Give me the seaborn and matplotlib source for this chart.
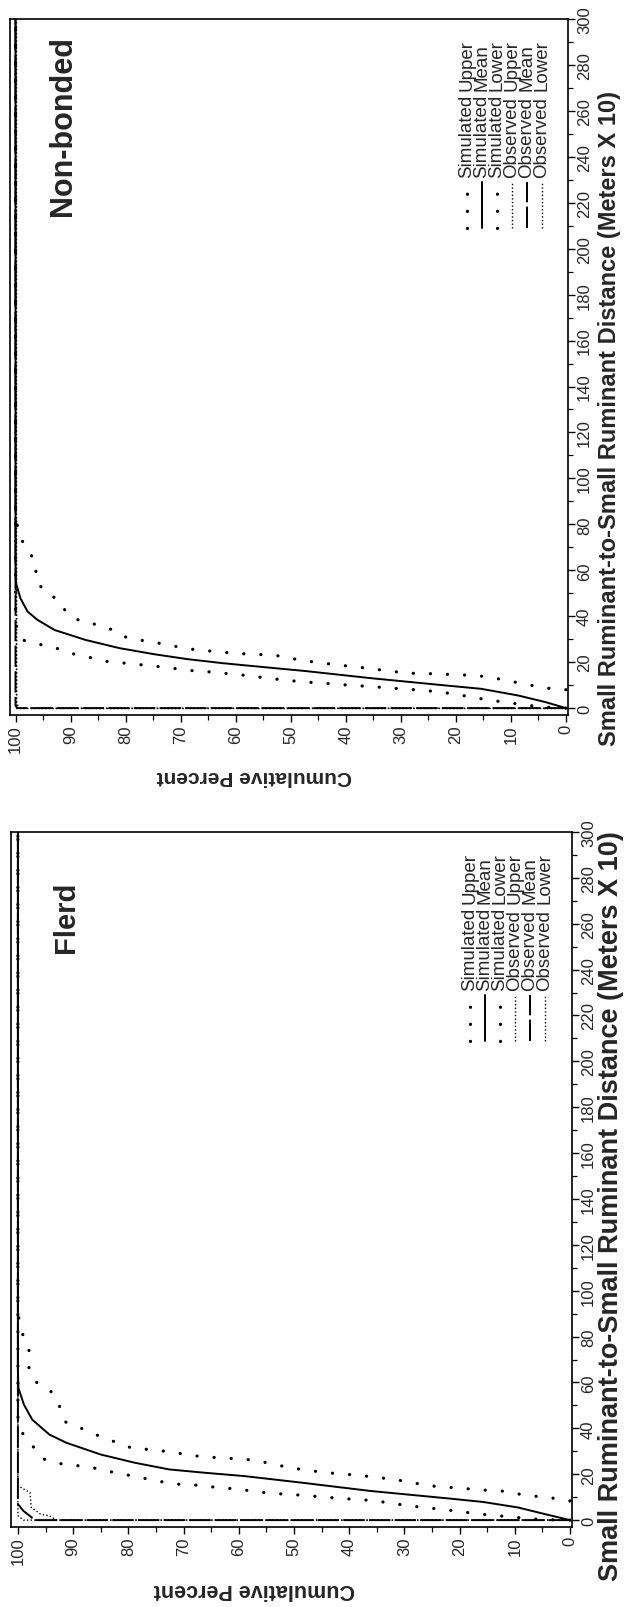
import matplotlib
matplotlib.use("Agg")
import matplotlib.pyplot as plt
from matplotlib.lines import Line2D
from matplotlib.ticker import MultipleLocator
import pandas as pd
import seaborn as sns

# ---------------- data (distance in metres x 10, cumulative percent) ----------------
series_names = ["Simulated Upper", "Simulated Mean", "Simulated Lower",
                "Observed Upper", "Observed Mean", "Observed Lower"]

# Flerd panel
flerd_sim_upper_d = [0, 0.2, 0.5, 1.2, 1.9, 2.6, 3.6, 4.6, 6.2, 8.5, 9.5, 10.8, 11.8, 13.7, 14.3, 15.2,
                     15.5, 16.6, 18.1, 19.6, 21.1, 22.7, 23.8, 24.7, 26.9, 32.6, 38, 45, 300]
flerd_sim_upper_p = [0, 4.0, 6.5, 9.8, 13.0, 16.3, 19.5, 22.8, 29.1, 35.5, 41.8, 48.2, 54.7, 60.9, 64.2, 67.2,
                     70.4, 73.7, 76.8, 80.0, 83.2, 86.2, 89.4, 92.6, 95.7, 97.4, 99.2, 100, 100]
flerd_sim_mean_d = [0, 2.6, 5.5, 7.9, 9.4, 12.7, 16.3, 19.2, 20.7, 22.1, 25.0, 28.6, 33.7, 37.3, 43.8,
                    50.3, 57.5, 65, 300]
flerd_sim_mean_p = [0, 4.5, 9.4, 15.7, 21.8, 36.1, 48.5, 59.0, 66.4, 72.6, 78.8, 85.0, 91.2, 94.3, 97.4,
                    98.9, 99.9, 100, 100]
flerd_sim_lower_d = [8.4, 9.5, 10.3, 11.3, 12.7, 13.1, 13.7, 14.9, 17.6, 19.5, 20.7, 22.8, 26.1, 26.7, 27.2,
                     27.6, 28.7, 29.9, 30.8, 31.2, 33.9, 36.8, 39.9, 42.8, 49.8, 56.0, 59.7, 65.5, 74.4, 82,
                     90, 300]
flerd_sim_lower_p = [0, 2.8, 5.9, 9.1, 12.4, 15.7, 18.7, 25.2, 31.5, 38.0, 44.3, 50.7, 57.0, 60.3, 63.3,
                     66.6, 69.7, 73.0, 76.1, 79.1, 82.2, 85.4, 88.4, 91.4, 92.5, 94.0, 96.5, 98.0, 98.0, 99.3,
                     100, 100]
flerd_obs_upper_d = [0, 0, 2, 300]
flerd_obs_upper_p = [0, 99, 100, 100]
flerd_obs_mean_d = [0, 0, 1.2, 4, 7, 300]
flerd_obs_mean_p = [0, 97.3, 97.5, 99, 100, 100]
flerd_obs_lower_d = [0, 0, 1.9, 2.6, 5.6, 12, 15, 300]
flerd_obs_lower_p = [0, 93, 94.3, 95.9, 97.6, 97.8, 100, 100]

# Non-bonded panel
nb_sim_upper_d = [0, 0.2, 1.0, 2.2, 3.3, 4.5, 6.0, 7.0, 7.8, 8.3, 8.8, 9.4, 9.9, 10.4, 11.0, 11.6, 12.3,
                  13.2, 14.2, 14.9, 15.7, 16.2, 17.1, 18.0, 18.8, 19.6, 20.3, 22.0, 23.6, 26.1, 27.8, 29.7,
                  35, 40, 300]
nb_sim_upper_p = [0, 2.4, 6.1, 9.9, 13.3, 16.6, 19.9, 22.9, 26.1, 29.3, 32.3, 35.6, 38.8, 42.0, 45.2, 48.5,
                  51.5, 54.8, 57.9, 61.1, 64.3, 67.5, 70.6, 73.8, 76.9, 80.2, 83.3, 86.4, 89.5, 92.6, 95.7,
                  98.8, 99.8, 100, 100]
nb_sim_mean_d = [0, 2.6, 5.5, 8.4, 10.1, 13.0, 16.2, 18.6, 19.6, 21.3, 23.5, 26.1, 29.7, 34.0, 38.4, 42.0,
                 47.8, 54.3, 62, 300]
nb_sim_mean_p = [0, 3.7, 8.7, 15.4, 22.9, 35.3, 47.6, 58.2, 62.5, 68.7, 74.9, 81.1, 87.3, 92.9, 96.0, 97.8,
                 99.1, 99.9, 100, 100]
nb_sim_lower_d = [8.0, 8.7, 10.0, 13.0, 14.2, 14.5, 14.8, 15.1, 15.2, 16.2, 17.1, 18.1, 18.8, 19.9, 20.7,
                  22.5, 23.2, 23.5, 24.0, 24.7, 25.3, 26.5, 28.0, 29.3, 30.4, 33.6, 36.2, 37.7, 41.3, 47.1,
                  50.0, 55.5, 64.0, 69.6, 77, 85, 300]
nb_sim_lower_p = [0, 3.5, 6.5, 12.8, 16.2, 19.5, 22.5, 25.9, 29.0, 32.1, 35.3, 38.6, 41.7, 44.9, 48.2,
                  51.1, 54.4, 57.6, 60.7, 63.9, 67.0, 70.1, 73.3, 76.5, 79.6, 81.8, 84.9, 88.1, 90.7, 92.1,
                  94.4, 96.3, 96.3, 98.2, 99.5, 100, 100]
nb_obs_upper_d = [0, 0, 300]
nb_obs_upper_p = [0, 100, 100]
nb_obs_mean_d = [0, 0, 1, 300]
nb_obs_mean_p = [0, 99.6, 100, 100]
nb_obs_lower_d = [0, 0, 2, 300]
nb_obs_lower_p = [0, 99.2, 99.8, 100]

pct_ticks = list(range(0, 101, 10))
dist_ticks = list(range(0, 301, 20))
xlabel_text = "Small Ruminant-to-Small Ruminant Distance (Meters X 10)"
ylabel_text = "Cumulative Percent"

# ---------------- styles ----------------
STYLE = {
    "Simulated Upper": dict(lw=2.3, dashes=(0.05, 5.3), cap="round"),
    "Simulated Mean": dict(lw=1.4, dashes=None, cap="butt"),
    "Simulated Lower": dict(lw=2.3, dashes=(0.05, 5.3), cap="round"),
    "Observed Upper": dict(lw=1.0, dashes=(1.0, 1.6), cap="butt"),
    "Observed Mean": dict(lw=1.4, dashes=(11, 2.2), cap="butt"),
    "Observed Lower": dict(lw=1.0, dashes=(1.0, 1.6), cap="butt"),
}

sns.set_style("ticks")
plt.rcParams["font.family"] = ["Liberation Sans", "DejaVu Sans"]

W, H = 624, 1608
fig = plt.figure(figsize=(W / 100, H / 100), dpi=100)


def px(x, y):
    return x / W, 1 - y / H


panels = [
    dict(title="Flerd",
         box=(11, 833, 572, 1528), xlim=(101.25, -0.36),
         series=[(flerd_sim_upper_d, flerd_sim_upper_p), (flerd_sim_mean_d, flerd_sim_mean_p),
                 (flerd_sim_lower_d, flerd_sim_lower_p), (flerd_obs_upper_d, flerd_obs_upper_p),
                 (flerd_obs_mean_d, flerd_obs_mean_p), (flerd_obs_lower_d, flerd_obs_lower_p)],
         title_xy=(66, 917), title_fs=21,
         dlabel_xy=(611, 1206), dlabel_fs=19.5,
         plabel_xy=(254, 1590), plabel_fs=15.5,
         leg_rows=[470, 485, 500, 515, 530, 545], leg_top=833),
    dict(title="Non-bonded",
         box=(10, 20, 568, 716), xlim=(101.0, -0.37),
         series=[(nb_sim_upper_d, nb_sim_upper_p), (nb_sim_mean_d, nb_sim_mean_p),
                 (nb_sim_lower_d, nb_sim_lower_p), (nb_obs_upper_d, nb_obs_upper_p),
                 (nb_obs_mean_d, nb_obs_mean_p), (nb_obs_lower_d, nb_obs_lower_p)],
         title_xy=(63, 126), title_fs=22,
         dlabel_xy=(609, 418), dlabel_fs=17,
         plabel_xy=(254, 777), plabel_fs=15,
         leg_rows=[467, 482, 497, 512, 527, 542], leg_top=20),
]

for pan in panels:
    x0, y0, x1, y1 = pan["box"]
    ax = fig.add_axes([x0 / W, 1 - y1 / H, (x1 - x0) / W, (y1 - y0) / H])
    for name, (d, p) in zip(series_names, pan["series"]):
        df = pd.DataFrame({"pct": p, "dist": d})
        sns.lineplot(data=df, x="pct", y="dist", sort=False, estimator=None, ax=ax,
                     color="black", linewidth=STYLE[name]["lw"], legend=False)
        ln = ax.lines[-1]
        if STYLE[name]["dashes"] is not None:
            ln.set_dashes(STYLE[name]["dashes"])
        ln.set_dash_capstyle(STYLE[name]["cap"])
        ln.set_solid_capstyle("butt")

    ax.set_xlim(*pan["xlim"])
    ax.set_ylim(-3, 300)
    ax.set_xticks(pct_ticks)
    ax.set_yticks(dist_ticks)
    ax.xaxis.set_minor_locator(MultipleLocator(5))
    ax.yaxis.set_minor_locator(MultipleLocator(10))
    ax.yaxis.tick_right()
    ax.tick_params(which="major", direction="out", length=5, width=1.0, color="black",
                   labelsize=12, pad=1.5)
    ax.tick_params(which="minor", direction="out", length=3.5, width=0.9, color="black")
    ax.tick_params(axis="y", which="both", left=False, right=True)
    ax.tick_params(axis="x", labelrotation=90)
    ax.tick_params(axis="y", labelrotation=90)
    for lbl in ax.get_yticklabels():
        lbl.set_va("center")
        lbl.set_ha("left")
    for lbl in ax.get_xticklabels():
        lbl.set_ha("center")
        lbl.set_va("top")
    for s in ax.spines.values():
        s.set_linewidth(1.2)
        s.set_color("black")

    # axis labels (figure is shown rotated by 90 degrees)
    ax.set_xlabel(ylabel_text, fontsize=pan["plabel_fs"], fontweight="bold", rotation=180)
    lx, ly = pan["plabel_xy"]
    ax.xaxis.set_label_coords((lx - x0) / (x1 - x0), (y1 - ly) / (y1 - y0))
    ax.xaxis.label.set_va("center")
    ax.xaxis.label.set_ha("center")

    ax.yaxis.set_label_position("right")
    ax.set_ylabel(xlabel_text, fontsize=pan["dlabel_fs"], fontweight="bold", rotation=90)
    dx, dy = pan["dlabel_xy"]
    ax.yaxis.set_label_coords((dx - x0) / (x1 - x0), (y1 - dy) / (y1 - y0))
    ax.yaxis.label.set_va("center")
    ax.yaxis.label.set_ha("center")

    # panel title
    tx, ty = pan["title_xy"]
    fig.text(*px(tx, ty), pan["title"], rotation=90, ha="center", va="center",
             fontsize=pan["title_fs"], fontweight="bold")

    # legend (rotated)
    top = pan["leg_top"]
    s0, s1 = top + 163, top + 209
    t1, t2 = top + 158, top + 71
    for name, rx in zip(series_names, pan["leg_rows"]):
        st = STYLE[name]
        (ax0, ay0), (ax1, ay1) = px(rx, s1), px(rx, s0)
        ln = Line2D([ax0, ax1], [ay0, ay1], transform=fig.transFigure, color="black",
                    linewidth=st["lw"])
        if st["dashes"] is not None:
            ln.set_dashes(st["dashes"])
        ln.set_dash_capstyle(st["cap"])
        fig.add_artist(ln)
        w1, w2 = name.split(" ")
        fig.text(*px(rx, t1), w1, rotation=90, rotation_mode="anchor",
                 ha="left", va="center", fontsize=13.5)
        fig.text(*px(rx, t2), w2, rotation=90, rotation_mode="anchor",
                 ha="left", va="center", fontsize=13.5)

fig.savefig("out.png", dpi=100)
